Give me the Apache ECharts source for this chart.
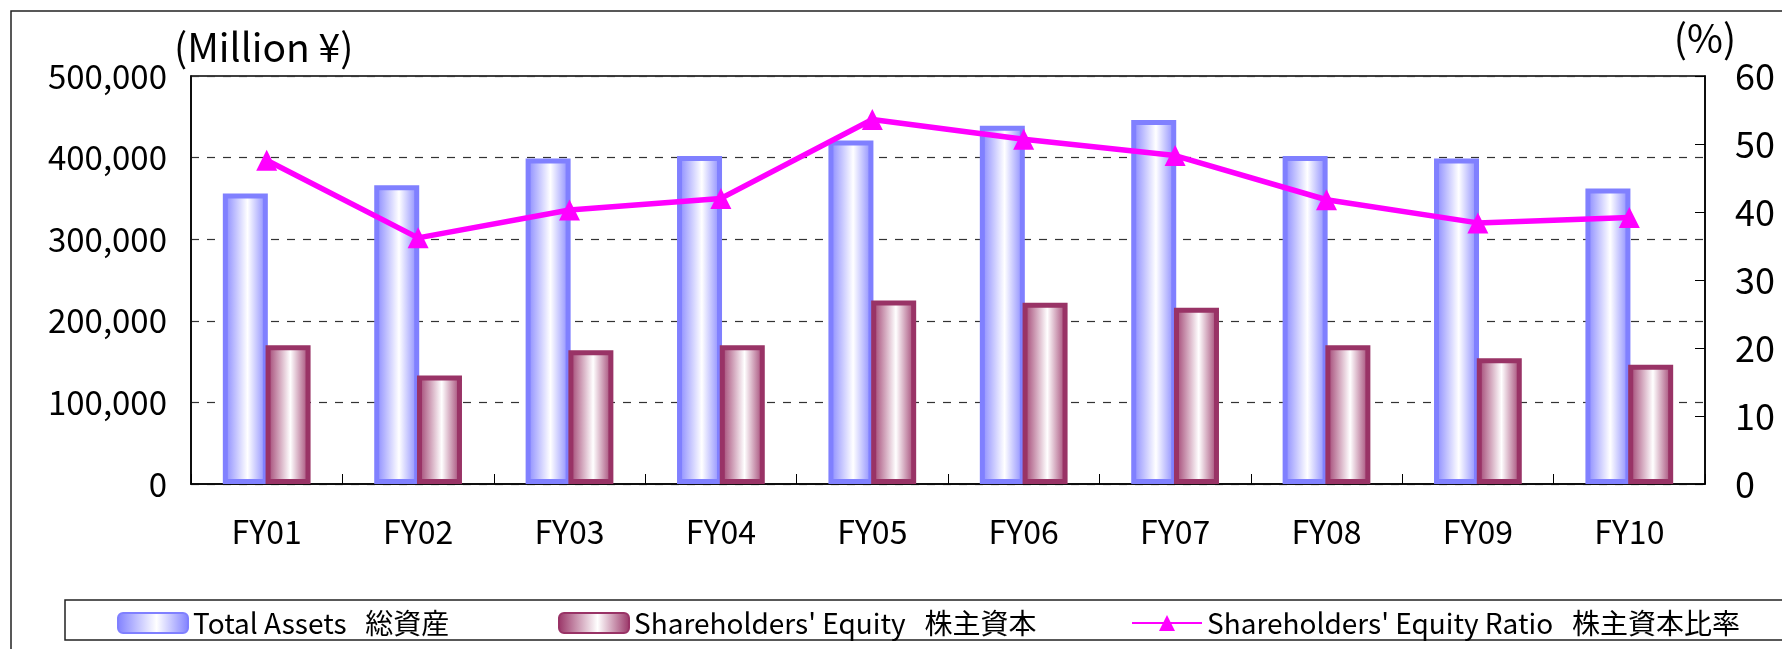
<!DOCTYPE html>
<html>
<head>
<meta charset="utf-8">
<title>Total Assets / Shareholders' Equity</title>
<script src="https://cdn.jsdelivr.net/npm/echarts@6/dist/echarts.min.js"></script>
<style>
  html, body { margin: 0; padding: 0; background: #fff; }
  #chart { width: 1782px; height: 649px; }
</style>
</head>
<body>
<div id="chart"></div>
<script>
// data
var years = ["FY01", "FY02", "FY03", "FY04", "FY05", "FY06", "FY07", "FY08", "FY09", "FY10"];
var totalAssets = [356000, 366000, 399000, 402000, 421000, 439000, 446000, 402000, 399000, 362000];
var equity = [170000, 133000, 164000, 170000, 225000, 222000, 216000, 170000, 154000, 146000];
var equityRatio = [47.6, 36.2, 40.3, 42.0, 53.6, 50.7, 48.3, 41.8, 38.4, 39.2];

var nameAssets = "Total Assets   総資産";
var nameEquity = "Shareholders' Equity   株主資本";
var nameRatio = "Shareholders' Equity Ratio   株主資本比率";

var font = "'Noto Sans CJK JP', 'Noto Sans', sans-serif";

// fill that is light in the middle, darker at the sides
function barFill(edge) {
  return new echarts.graphic.LinearGradient(0, 0, 1, 0, [
    { offset: 0, color: edge },
    { offset: 0.55, color: "#ffffff" },
    { offset: 1, color: edge }
  ]);
}

var chart = echarts.init(document.getElementById("chart"));

function legendBox(name, left) {
  return {
    data: [name],
    left: left,
    top: 604,
    itemWidth: 70,
    itemHeight: 20,
    itemGap: 10,
    textStyle: { fontFamily: font, fontSize: 28, color: "#000" },
    selectedMode: false
  };
}

let option = {
  backgroundColor: "#fff",
  animation: false,
  textStyle: { fontFamily: font },
  grid: {
    left: 191,
    right: 77,
    top: 76,
    bottom: 165,
    show: true,
    borderColor: "#000",
    borderWidth: 1.5
  },
  legend: [
    legendBox(nameAssets, 112),
    legendBox(nameEquity, 553),
    legendBox(nameRatio, 1126)
  ],
  graphic: [
    // outer frame, runs off the right and bottom like the source
    {
      type: "rect",
      shape: { x: 11, y: 11, width: 1800, height: 700 },
      style: { fill: null, stroke: "#222", lineWidth: 1.5 },
      silent: true
    },
    // legend frame
    {
      type: "rect",
      shape: { x: 65, y: 600, width: 1800, height: 40 },
      style: { fill: null, stroke: "#222", lineWidth: 1.5 },
      silent: true
    },
    {
      type: "text",
      left: 174,
      top: 28,
      style: { text: "(Million ¥)", font: "39px " + font, fill: "#000" }
    }
  ],
  xAxis: [
    {
      type: "category",
      data: years,
      axisLine: { lineStyle: { color: "#000", width: 1.5 } },
      axisTick: { show: true, inside: true, length: 10, lineStyle: { color: "#000" } },
      axisLabel: { color: "#000", fontSize: 32, margin: 32 }
    }
  ],
  yAxis: [
    {
      type: "value",
      min: 0,
      max: 500000,
      interval: 100000,
      axisLine: { show: true, lineStyle: { color: "#000", width: 1.5 } },
      axisTick: { show: false },
      axisLabel: {
        color: "#000",
        fontSize: 33,
        margin: 24,
        formatter: function(v) {
          return v.toLocaleString("en-US");
        }
      },
      splitLine: {
        lineStyle: { color: "#333", type: [8, 8], width: 1.2 }
      }
    },
    {
      type: "value",
      min: 0,
      max: 60,
      interval: 10,
      position: "right",
      name: "(%)",
      nameLocation: "end",
      nameGap: 4,
      nameTextStyle: { color: "#000", fontSize: 39, fontFamily: font, align: "center" },
      axisLine: { show: true, lineStyle: { color: "#000", width: 1.5 } },
      axisTick: { show: true, inside: true, length: 10, lineStyle: { color: "#000" } },
      axisLabel: { color: "#000", fontSize: 36, margin: 30 },
      splitLine: { show: false }
    }
  ],
  series: [
    {
      name: nameAssets,
      type: "bar",
      data: totalAssets,
      barWidth: 45,
      barGap: "-5%",
      itemStyle: {
        color: barFill("#8080ff"),
        borderColor: "#8080ff",
        borderWidth: 5
      }
    },
    {
      name: nameEquity,
      type: "bar",
      data: equity,
      barWidth: 45,
      barGap: "-5%",
      itemStyle: {
        color: barFill("#993366"),
        borderColor: "#993366",
        borderWidth: 5
      }
    },
    {
      name: nameRatio,
      type: "line",
      yAxisIndex: 1,
      data: equityRatio,
      symbol: "triangle",
      symbolSize: 21,
      lineStyle: { color: "#ff00ff", width: 5.5 },
      itemStyle: { color: "#ff00ff" },
      z: 5
    }
  ]
};

chart.setOption(option);
</script>
</body>
</html>
